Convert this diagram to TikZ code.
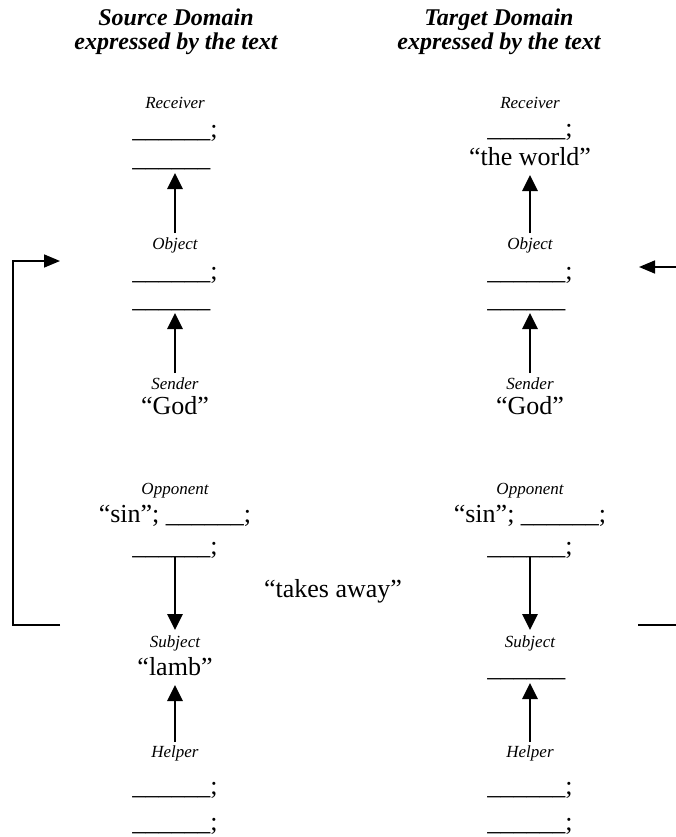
\documentclass[tikz,border=0pt]{standalone}
\usepackage{fontspec}
\setmainfont{Liberation Serif}
\usetikzlibrary{arrows.meta,calc}
\begin{document}
\begin{tikzpicture}[x=1pt,y=-1pt,
  lbl/.style={font=\fontsize{17}{20}\selectfont\itshape, inner sep=0pt, anchor=base},
  txt/.style={font=\fontsize{26}{30}\selectfont, inner sep=0pt, anchor=base},
  ttl/.style={font=\fontsize{24}{28}\selectfont\bfseries\itshape, inner sep=0pt, anchor=base},
  arr/.style={line width=2.9pt, -{Triangle[width=15pt,length=16pt]}},
  brk/.style={line width=1.6pt},
  brkarr/.style={line width=1.6pt, -{Triangle[width=13pt,length=16pt]}}]
\useasboundingbox (0,0) rectangle (676,837);

% column headings
\node[ttl] (srcA) at (176,26) {Source Domain};
\node[ttl] (srcB) at (176,50) {expressed by the text};
\node[ttl] (tgtA) at (499,26) {Target Domain};
\node[ttl] (tgtB) at (499,50) {expressed by the text};

% ---- source domain column ----
\node[lbl] (sRcv)  at (175,109) {Receiver};
\node[txt] (sRcv1) at (175,138) {\_\_\_\_\_\_;};
\node[txt] (sRcv2) at (175,167) {\_\_\_\_\_\_\phantom{;}};
\node[lbl] (sObj)  at (175,249) {Object};
\node[txt] (sObj1) at (175,279) {\_\_\_\_\_\_;};
\node[txt] (sObj2) at (175,307) {\_\_\_\_\_\_\phantom{;}};
\node[lbl] (sSnd)  at (175,389) {Sender};
\node[txt] (sGod)  at (175,414) {``God''};
\node[lbl] (sOpp)  at (175,494) {Opponent};
\node[txt] (sOpp1) at (175,522) {``sin''; \_\_\_\_\_\_;};
\node[txt] (sOpp2) at (175,554) {\_\_\_\_\_\_;};
\node[lbl] (sSub)  at (175,647) {Subject};
\node[txt] (sLamb) at (175,675) {``lamb''};
\node[lbl] (sHlp)  at (175,757) {Helper};
\node[txt] (sHlp1) at (175,794) {\_\_\_\_\_\_;};
\node[txt] (sHlp2) at (175,830) {\_\_\_\_\_\_;};

% ---- target domain column ----
\node[lbl] (tRcv)  at (530,109) {Receiver};
\node[txt] (tRcv1) at (530,137) {\_\_\_\_\_\_;};
\node[txt] (tWorld) at (530,165) {``the world''};
\node[lbl] (tObj)  at (530,249) {Object};
\node[txt] (tObj1) at (530,279) {\_\_\_\_\_\_;};
\node[txt] (tObj2) at (530,307) {\_\_\_\_\_\_\phantom{;}};
\node[lbl] (tSnd)  at (530,389) {Sender};
\node[txt] (tGod)  at (530,414) {``God''};
\node[lbl] (tOpp)  at (530,494) {Opponent};
\node[txt] (tOpp1) at (530,522) {``sin''; \_\_\_\_\_\_;};
\node[txt] (tOpp2) at (530,554) {\_\_\_\_\_\_;};
\node[lbl] (tSub)  at (530,647) {Subject};
\node[txt] (tSub1) at (530,676) {\_\_\_\_\_\_\phantom{;}};
\node[lbl] (tHlp)  at (530,757) {Helper};
\node[txt] (tHlp1) at (530,794) {\_\_\_\_\_\_;};
\node[txt] (tHlp2) at (530,830) {\_\_\_\_\_\_;};

% the action between the two columns
\node[txt] (act) at (333,597) {``takes away''};

% actant arrows, source column
\draw[arr] ($(sObj.base)+(0,-16)$) -- ($(sRcv2.base)+(0,6)$);
\draw[arr] ($(sSnd.base)+(0,-16)$) -- ($(sObj2.base)+(0,6)$);
\draw[arr] ($(sOpp2.base)+(0,3)$)  -- ($(sSub.base)+(0,-17)$);
\draw[arr] ($(sHlp.base)+(0,-15)$) -- ($(sLamb.base)+(0,10)$);

% actant arrows, target column
\draw[arr] ($(tObj.base)+(0,-16)$) -- ($(tWorld.base)+(0,10)$);
\draw[arr] ($(tSnd.base)+(0,-16)$) -- ($(tObj2.base)+(0,6)$);
\draw[arr] ($(tOpp2.base)+(0,3)$)  -- ($(tSub.base)+(0,-17)$);
\draw[arr] ($(tHlp.base)+(0,-15)$) -- ($(tSub1.base)+(0,7)$);

% mapping brackets on the outer edges
\coordinate (lbBot) at (60,625);
\coordinate (lbTop) at (60,261);
\draw[brkarr] (lbBot) -- (13,625) -- (13,261) -- (lbTop);
\coordinate (rbFrom) at (676,267);
\coordinate (rbTo)   at (639,267);
\draw[brkarr] (rbFrom) -- (rbTo);
\coordinate (rbBotA) at (638,625);
\coordinate (rbBotB) at (676,625);
\draw[brk] (rbBotA) -- (rbBotB);
\end{tikzpicture}
\end{document}
